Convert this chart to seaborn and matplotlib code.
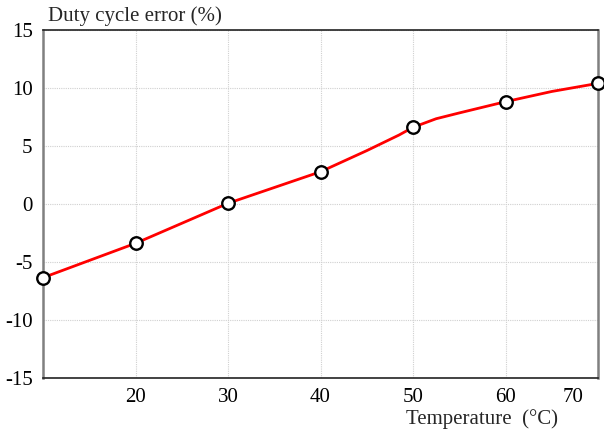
import matplotlib
matplotlib.use("Agg")
import matplotlib.pyplot as plt
import matplotlib.transforms as mtransforms
import seaborn as sns
import pandas as pd

# Curve samples (temperature in °C, duty cycle error in %)
curve_temp = [10, 20, 30, 35, 40, 45, 48.5, 50, 52.5, 55, 60, 65, 67.5, 70]
curve_err = [-6.35, -3.39, 0.06, 1.42, 2.78, 4.6, 5.95, 6.61, 7.35, 7.85, 8.82, 9.7, 10.05, 10.4]

# Measured points (markers)
point_temp = [10, 20, 30, 40, 50, 60, 70]
point_err = [-6.35, -3.39, 0.06, 2.78, 6.61, 8.82, 10.4]

x_ticks = [20, 30, 40, 50, 60, 70]
x_tick_labels = ["20", "30", "40", "50", "60", "70"]
y_ticks = [-15, -10, -5, 0, 5, 10, 15]
y_tick_labels = ["-15", "-10", "-5", "0", "5", "10", "15"]

sns.set_theme(style="white")
plt.rcParams["font.family"] = ["Liberation Serif", "DejaVu Serif"]

fig = plt.figure(figsize=(6.04, 4.30), dpi=100)
ax = fig.add_axes([43 / 604, (430 - 378) / 430, (598 - 43) / 604, (378 - 30) / 430])

curve_df = pd.DataFrame({"t": curve_temp, "e": curve_err})
point_df = pd.DataFrame({"t": point_temp, "e": point_err})

sns.lineplot(data=curve_df, x="t", y="e", ax=ax, color="#ff0000", linewidth=2.0,
             zorder=3, clip_on=False)
sns.lineplot(data=point_df, x="t", y="e", ax=ax, linestyle="none", marker="o",
             markersize=9.0, markerfacecolor="white", markeredgecolor="black",
             markeredgewidth=1.7, zorder=4, clip_on=False)

ax.set_xlim(10, 70)
ax.set_ylim(-15, 15)
ax.set_xticks(x_ticks)
ax.set_xticklabels(x_tick_labels)
ax.set_yticks(y_ticks)
ax.set_yticklabels(y_tick_labels)
ax.set_xlabel("")
ax.set_ylabel("")

ax.grid(True, color="#d0d0d0", linestyle=(0, (1, 1)), linewidth=0.8)
ax.tick_params(axis="both", length=0, labelsize=15, colors="black")
ax.tick_params(axis="y", pad=7.5)
ax.tick_params(axis="x", pad=7)

for lab in ax.get_xticklabels():
    if lab.get_text() == "70":
        lab.set_transform(lab.get_transform() + mtransforms.ScaledTranslation(-25 / 100, 0, fig.dpi_scale_trans))

for side in ["left", "right"]:
    ax.spines[side].set_color("#808080")
    ax.spines[side].set_linewidth(1.8)
for side in ["top", "bottom"]:
    ax.spines[side].set_color("#222222")
    ax.spines[side].set_linewidth(1.2)

fig.text(48 / 604, 1 - 16 / 430, "Duty cycle error (%)", fontsize=15, ha="left", va="center")
fig.text(406 / 604, 1 - 419 / 430, "Temperature  (°C)", fontsize=15, ha="left", va="center")

fig.savefig("out.png", dpi=100)
